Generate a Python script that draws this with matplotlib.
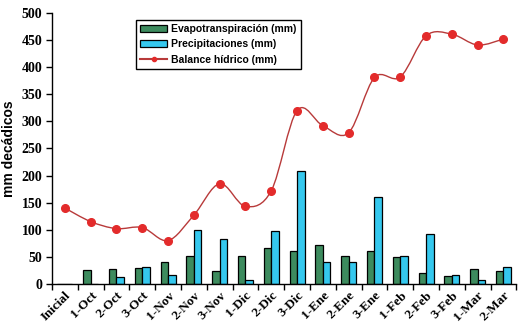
import matplotlib
matplotlib.use("Agg")
import matplotlib.pyplot as plt
import numpy as np
from matplotlib.path import Path
from matplotlib.patches import PathPatch
from matplotlib.lines import Line2D
from matplotlib.patches import Patch

periodos = ["Inicial", "1-Oct", "2-Oct", "3-Oct", "1-Nov", "2-Nov", "3-Nov",
            "1-Dic", "2-Dic", "3-Dic", "1-Ene", "2-Ene", "3-Ene", "1-Feb",
            "2-Feb", "3-Feb", "1-Mar", "2-Mar"]
evapotranspiracion = [0, 25, 27, 30, 40, 52, 23, 51, 67, 60, 71, 52, 60, 49,
                      20, 14, 27, 23]
precipitaciones = [0, 0, 12, 32, 16, 99, 82, 7, 97, 208, 41, 40, 161, 52,
                   93, 16, 7, 32]
balance = [140, 115, 102, 104, 80, 127, 185, 143, 172, 320, 292, 279, 381,
           382, 458, 461, 441, 452]

VERDE = "#3d8b5e"
CIAN = "#35c8ee"
ROJO = "#b83a3a"
ROJO_MARCA = "#e32b2b"

fig = plt.figure(figsize=(5.2, 3.34), dpi=100)
ax = fig.add_axes([0.1, 0.15, 0.893, 0.811])

x = np.arange(len(periodos))
w = 0.29
ax.bar(x - w / 2, evapotranspiracion, w, color=VERDE, edgecolor="black",
       linewidth=0.9)
ax.bar(x + w / 2, precipitaciones, w, color=CIAN, edgecolor="black",
       linewidth=0.9)

# linea suavizada (estilo Excel) con curvas Bezier entre los puntos
pts = list(zip(x, balance))
verts = [pts[0]]
codes = [Path.MOVETO]
t = 0.5 / 3
for i in range(len(pts) - 1):
    p0 = pts[i - 1] if i > 0 else pts[i]
    p1, p2 = pts[i], pts[i + 1]
    p3 = pts[i + 2] if i + 2 < len(pts) else pts[i + 1]
    c1 = (p1[0] + (p2[0] - p0[0]) * t, p1[1] + (p2[1] - p0[1]) * t)
    c2 = (p2[0] - (p3[0] - p1[0]) * t, p2[1] - (p3[1] - p1[1]) * t)
    verts += [c1, c2, p2]
    codes += [Path.CURVE4] * 3
ax.add_patch(PathPatch(Path(verts, codes), facecolor="none", edgecolor=ROJO,
                       linewidth=1.0))
ax.plot(x, balance, "o", color=ROJO_MARCA, markersize=5.5, zorder=3)

ax.set_xlim(-0.5, len(periodos) - 0.5)
ax.set_ylim(0, 500)
ax.set_yticks(range(0, 501, 50))
ax.set_xticks(np.arange(len(periodos) + 1) - 0.5)
ax.set_xticklabels([])
ax.set_xticks(x, minor=True)
ax.set_xticklabels(periodos, minor=True, rotation=45, ha="right",
                   rotation_mode="anchor", family="Liberation Serif",
                   fontweight="bold", fontsize=9.5)
ax.tick_params(axis="x", which="minor", length=0, pad=4)
ax.tick_params(axis="x", which="major", direction="out", length=4, width=1)
ax.tick_params(axis="y", direction="out", length=4, width=1, pad=3)
for lab in ax.get_yticklabels():
    lab.set_family("Liberation Serif")
    lab.set_fontweight("bold")
    lab.set_fontsize(10)

for s in ["top", "right"]:
    ax.spines[s].set_visible(False)
for s in ["left", "bottom"]:
    ax.spines[s].set_linewidth(1.0)

ax.set_ylabel("mm decádicos", family="Liberation Sans", fontweight="bold",
              fontsize=10, labelpad=4)

handles = [
    Patch(facecolor=VERDE, edgecolor="black", linewidth=0.9),
    Patch(facecolor=CIAN, edgecolor="black", linewidth=0.9),
    Line2D([], [], color=ROJO, marker="o", markersize=3,
           markerfacecolor=ROJO_MARCA, markeredgecolor=ROJO_MARCA),
]
leg = ax.legend(handles, ["Evapotranspiración (mm)", "Precipitaciones (mm)",
                          "Balance hídrico (mm)"],
                loc="upper left", bbox_to_anchor=(0.181, 0.974),
                borderaxespad=0,
                prop={"family": "Liberation Sans", "weight": "bold",
                      "size": 7.5},
                fancybox=False, edgecolor="black", framealpha=1,
                handlelength=2.6, handleheight=0.6, labelspacing=0.5,
                borderpad=0.4, handletextpad=0.4)
leg.get_frame().set_linewidth(1.0)

fig.savefig("out.png", dpi=100)
